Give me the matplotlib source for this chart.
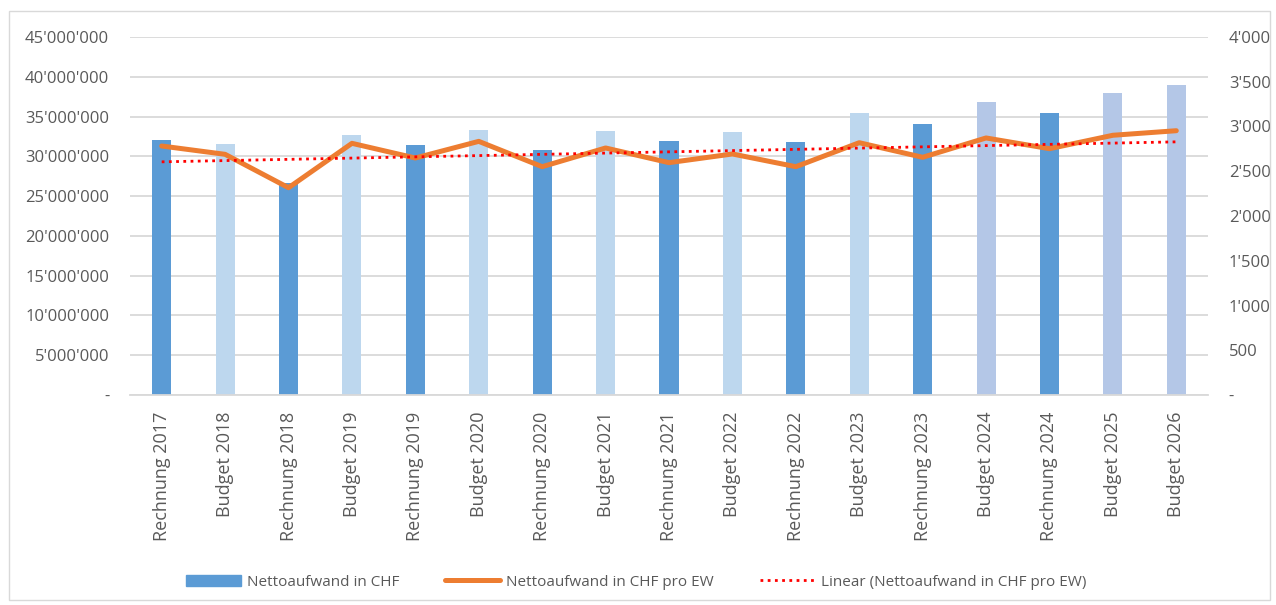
import numpy as np
import matplotlib
matplotlib.use("Agg")
import matplotlib.pyplot as plt
from matplotlib.patches import Rectangle
from matplotlib.lines import Line2D

categories = ["Rechnung 2017", "Budget 2018", "Rechnung 2018", "Budget 2019", "Rechnung 2019",
              "Budget 2020", "Rechnung 2020", "Budget 2021", "Rechnung 2021", "Budget 2022",
              "Rechnung 2022", "Budget 2023", "Rechnung 2023", "Budget 2024", "Rechnung 2024",
              "Budget 2025", "Budget 2026"]
netto_chf = [32.1e6, 31.5e6, 26.7e6, 32.7e6, 31.4e6, 33.3e6, 30.8e6, 33.2e6, 31.9e6, 33.0e6,
             31.8e6, 35.5e6, 34.1e6, 36.8e6, 35.5e6, 38.0e6, 39.0e6]
netto_pro_ew = [2782, 2689, 2316, 2812, 2648, 2834, 2551, 2760, 2596, 2693,
                2551, 2819, 2656, 2872, 2752, 2902, 2953]
left_ticks = [0, 5e6, 10e6, 15e6, 20e6, 25e6, 30e6, 35e6, 40e6, 45e6]
right_ticks = [0, 500, 1000, 1500, 2000, 2500, 3000, 3500, 4000]

C_RECH = "#5B9BD5"
C_BUD_OLD = "#BDD7EE"
C_BUD_NEW = "#B4C7E7"
C_LINE = "#ED7D31"
C_TREND = "#FF0000"
TXT = "#595959"

plt.rcParams['font.family'] = ['Open Sans', 'DejaVu Sans']

def fmt(v):
    if v == 0:
        return "-"
    return f"{int(v):,}".replace(",", "'")

def bar_color(name):
    if name.startswith("Rechnung"):
        return C_RECH
    year = int(name.split()[-1])
    return C_BUD_NEW if year >= 2024 else C_BUD_OLD

fig = plt.figure(figsize=(12.76, 6.05), dpi=100)
W, H = 1276, 605
ax = fig.add_axes([130 / W, 1 - 395 / H, (1208 - 130) / W, (395 - 37) / H])
ax2 = ax.twinx()

x = np.arange(len(categories))
ax.bar(x, netto_chf, width=0.3, color=[bar_color(c) for c in categories], zorder=2)
ax.set_xlim(-0.5, len(categories) - 0.5)
ax.set_ylim(0, 45e6)
ax.set_yticks(left_ticks)
ax.set_yticklabels([fmt(v) for v in left_ticks], fontsize=12)
ax.yaxis.grid(True, color="#D9D9D9", linewidth=1.3, zorder=0)
ax.set_axisbelow(True)
ax.set_xticks(x)
ax.set_xticklabels(categories, rotation=90, fontsize=13, color=TXT)
for s in ["top", "left", "right"]:
    ax.spines[s].set_visible(False)
ax.spines["bottom"].set_color("#D9D9D9")
ax.spines["bottom"].set_linewidth(1.3)
ax.tick_params(axis="both", length=0, colors=TXT)
ax.tick_params(axis="y", pad=15)
ax.tick_params(axis="x", pad=12)

ax2.plot(x, netto_pro_ew, color=C_LINE, linewidth=3.6, solid_capstyle="round", zorder=3)
coef = np.polyfit(x, netto_pro_ew, 1)
ax2.plot(x, np.polyval(coef, x), color=C_TREND, linestyle=(0, (1, 1.6)), linewidth=2, zorder=4)
ax2.set_ylim(0, 4000)
ax2.set_yticks(right_ticks)
ax2.set_yticklabels([fmt(v) for v in right_ticks], fontsize=12)
for s in ["top", "left", "right", "bottom"]:
    ax2.spines[s].set_visible(False)
ax2.tick_params(axis="y", length=0, colors=TXT, pad=15)

handles = [Rectangle((0, 0), 1, 1, color=C_RECH),
           Line2D([0], [0], color=C_LINE, linewidth=3.6, solid_capstyle="round"),
           Line2D([0], [0], color=C_TREND, linestyle=(0, (1, 1.6)), linewidth=2)]
labels = ["Nettoaufwand in CHF", "Nettoaufwand in CHF pro EW", "Linear (Nettoaufwand in CHF pro EW)"]
leg = fig.legend(handles, labels, loc="center", bbox_to_anchor=(636 / W, 1 - 582 / H), ncol=3,
                 frameon=False, fontsize=11, handlelength=3.6, columnspacing=3.0, handletextpad=0.4)
for t in leg.get_texts():
    t.set_color(TXT)

fig.patches.append(Rectangle((9 / W, 1 - 600 / H), (1270 - 9) / W, (600 - 11) / H,
                             transform=fig.transFigure, fill=False, edgecolor="#D9D9D9",
                             linewidth=1, zorder=0))

fig.savefig("out.png", dpi=100)
